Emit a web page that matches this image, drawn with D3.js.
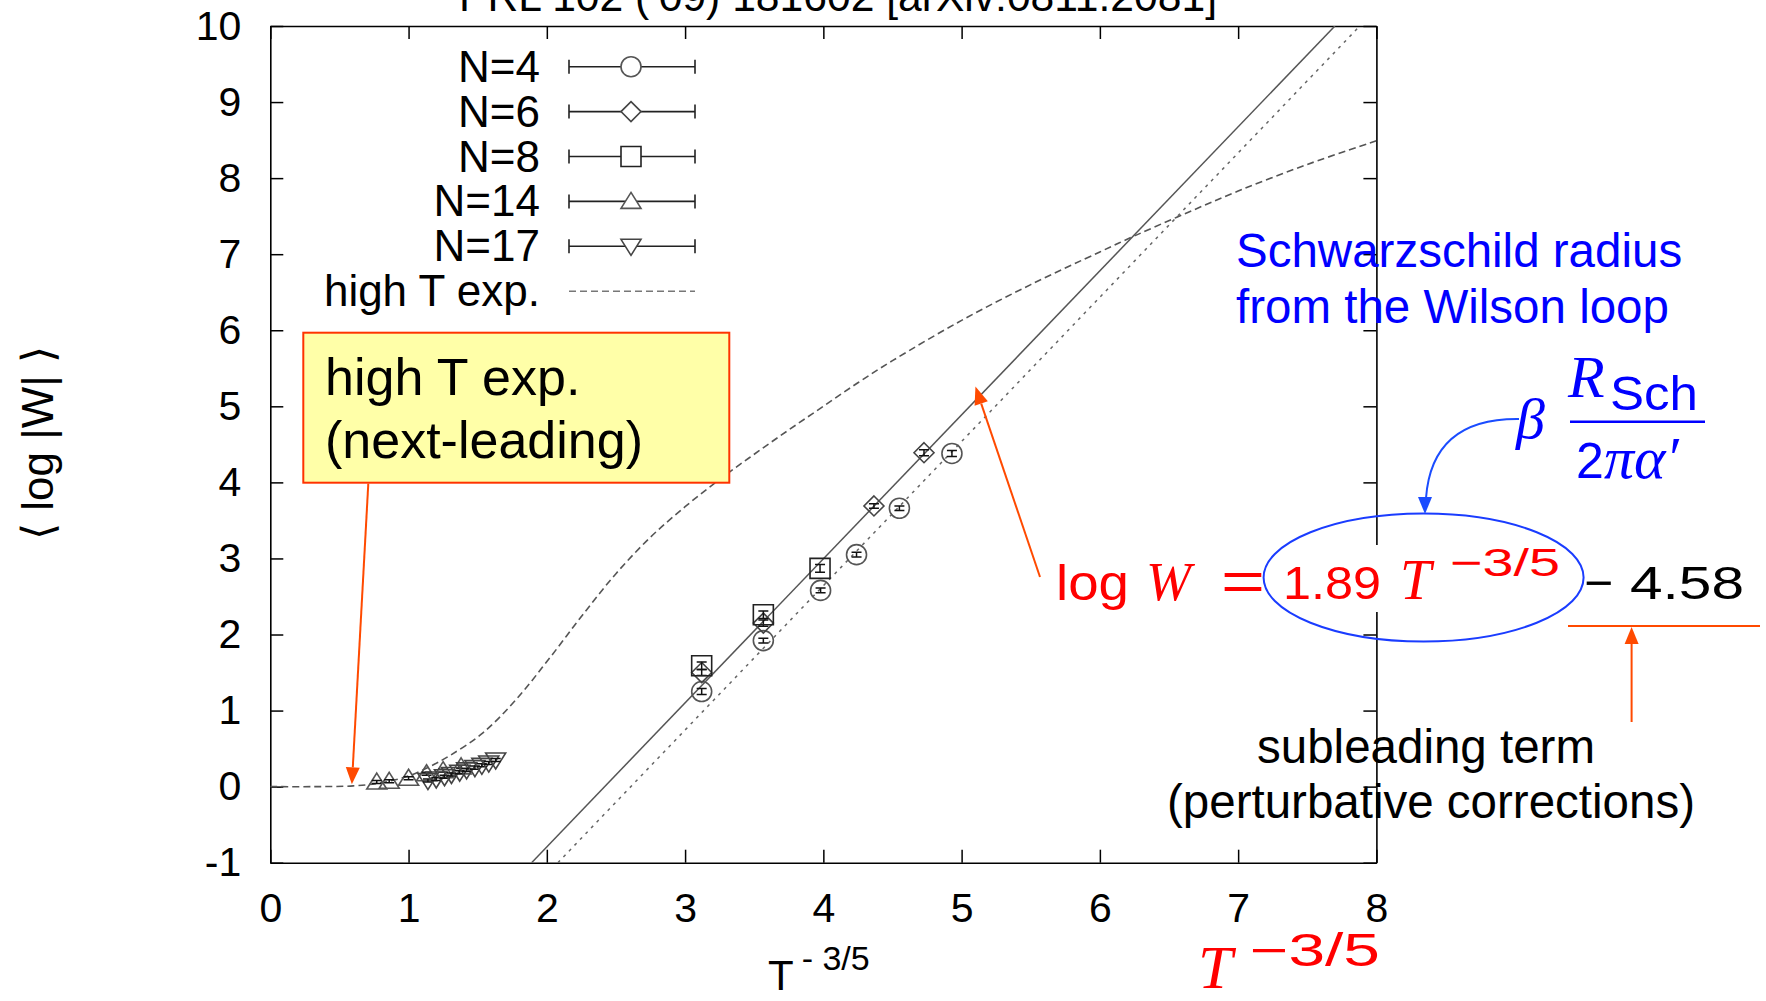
<!DOCTYPE html>
<html><head><meta charset="utf-8">
<script src="https://cdn.jsdelivr.net/npm/d3@7"></script>
<style>body{margin:0;background:#fff}svg{display:block}</style>
</head><body>
<svg id="c" width="1766" height="1001"></svg>
<script>
// ---------- data ----------
const xTicks = [0,1,2,3,4,5,6,7,8];
const yTicks = [-1,0,1,2,3,4,5,6,7,8,9,10];

const n4X = [3.12, 3.566, 3.98, 4.24, 4.55, 4.93];
const n4Y = [1.25, 1.92, 2.58, 3.05, 3.66, 4.38];
const n4E = [0.04, 0.03, 0.03, 0.03, 0.03, 0.04];

const n6X = [3.12, 3.566, 4.366, 4.728];
const n6Y = [1.50, 2.15, 3.69, 4.39];
const n6E = [0.04, 0.04, 0.03, 0.04];

const n8X = [3.12, 3.566, 3.976];
const n8Y = [1.59, 2.26, 2.87];
const n8E = [0.05, 0.05, 0.05];

const n14X = [0.77, 0.86, 1.00, 1.13, 1.25, 1.38];
const n14Y = [0.06, 0.07, 0.11, 0.17, 0.21, 0.26];
const n14E = [0.02, 0.02, 0.02, 0.02, 0.02, 0.02];

const n17X = [1.14, 1.20, 1.26, 1.31, 1.37, 1.42, 1.48, 1.53, 1.58, 1.63];
const n17Y = [0.08, 0.10, 0.13, 0.16, 0.19, 0.22, 0.25, 0.28, 0.31, 0.35];
const n17E = [0.02, 0.02, 0.02, 0.02, 0.02, 0.02, 0.02, 0.02, 0.02, 0.02];

// high T expansion curve
const hiX = [0, 0.3, 0.6, 0.8, 1.0, 1.15, 1.3, 1.54, 1.78, 2.02, 2.26, 2.5, 2.75, 3.0, 3.25, 3.5, 3.75, 4.0, 4.25, 4.5, 5.0, 5.5, 6.0, 6.25, 6.6, 7.0, 7.5, 8.0];
const hiY = [0, 0, 0.01, 0.05, 0.14, 0.26, 0.41, 0.71, 1.15, 1.69, 2.26, 2.80, 3.28, 3.68, 4.04, 4.37, 4.69, 5.00, 5.31, 5.60, 6.13, 6.60, 7.03, 7.24, 7.52, 7.83, 8.18, 8.49];

// fit lines (end points)
const solidX = [1.89, 7.70];
const solidY = [-1, 10];
const dottedX = [2.08, 7.88];
const dottedY = [-1, 10];

const legendLabels = ["N=4","N=6","N=8","N=14","N=17","high T exp."];

// ---------- setup ----------
const svg = d3.select('#c');
const L = 270.3, R = 1376.4, T = 26, B = 862.7;
const x = d3.scaleLinear().domain([0,8]).range([L,R]);
const y = d3.scaleLinear().domain([-1,10]).range([B,T]);
const SANS = "'Liberation Sans', Arial, sans-serif";
const SERIF = "'Liberation Serif', 'Times New Roman', serif";

svg.append('defs').append('clipPath').attr('id','plot')
  .append('rect').attr('x',L).attr('y',T).attr('width',R-L).attr('height',B-T);

// title (partly cut at the top, as in the original)
svg.append('text').attr('x',459).attr('y',11).attr('font-family',SANS).attr('font-size',42)
  .attr('textLength',758).attr('lengthAdjust','spacingAndGlyphs')
  .text('PRL 102 (\u201909) 181602 [arXiv:0811.2081]');

// ---------- axes ----------
function styleAxis(g){
  g.attr('font-family',SANS).attr('font-size',41);
  g.selectAll('.domain').attr('stroke','#000').attr('stroke-width',1.6);
  g.selectAll('.tick line').attr('stroke','#000').attr('stroke-width',1.5);
  g.selectAll('.tick text').attr('fill','#000');
}
const fmt = d => String(d);
svg.append('g').attr('transform',`translate(0,${B})`)
  .call(d3.axisBottom(x).tickValues(xTicks).tickSizeInner(-13).tickSizeOuter(0).tickPadding(30).tickFormat(fmt))
  .call(styleAxis);
svg.append('g').attr('transform',`translate(${L},0)`)
  .call(d3.axisLeft(y).tickValues(yTicks).tickSizeInner(-13).tickSizeOuter(0).tickPadding(29).tickFormat(fmt))
  .call(styleAxis);
svg.append('g').attr('transform',`translate(0,${T})`)
  .call(d3.axisTop(x).tickValues(xTicks).tickSizeInner(-13).tickSizeOuter(0).tickFormat(''))
  .call(styleAxis);
svg.append('g').attr('transform',`translate(${R},0)`)
  .call(d3.axisRight(y).tickValues(yTicks).tickSizeInner(-13).tickSizeOuter(0).tickFormat(''))
  .call(styleAxis);

// axis labels
const xl = svg.append('text').attr('x',768).attr('y',990).attr('font-family',SANS).attr('font-size',42);
xl.append('tspan').text('T');
xl.append('tspan').attr('dx',8).attr('dy',-20).attr('font-size',34).text('- 3/5');

svg.append('text').attr('transform','translate(37,443) rotate(-90)')
  .attr('text-anchor','middle').attr('dominant-baseline','central')
  .attr('font-family',SANS).attr('font-size',44).text('\u27E8 log |W| \u27E9');

// ---------- plot content ----------
const plot = svg.append('g').attr('clip-path','url(#plot)');

const line = d3.line().x(d=>x(d[0])).y(d=>y(d[1]));
plot.append('path').datum(d3.zip(hiX,hiY))
  .attr('d', d3.line().x(d=>x(d[0])).y(d=>y(d[1])).curve(d3.curveCatmullRom.alpha(0.5)))
  .attr('fill','none').attr('stroke','#555').attr('stroke-width',1.6).attr('stroke-dasharray','7,4');
plot.append('path').datum(d3.zip(solidX,solidY)).attr('d',line)
  .attr('fill','none').attr('stroke','#555').attr('stroke-width',1.5);
plot.append('path').datum(d3.zip(dottedX,dottedY)).attr('d',line)
  .attr('fill','none').attr('stroke','#666').attr('stroke-width',1.5).attr('stroke-dasharray','3,5');

function markerPath(type,cx,cy){
  switch(type){
    case 'circle': return `M${cx-10},${cy}a10,10 0 1,0 20,0a10,10 0 1,0 -20,0`;
    case 'diamond': return `M${cx},${cy-10}L${cx+10},${cy}L${cx},${cy+10}L${cx-10},${cy}Z`;
    case 'square': return `M${cx-10},${cy-10}h20v20h-20Z`;
    case 'up': return `M${cx},${cy-9}L${cx+10},${cy+7}L${cx-10},${cy+7}Z`;
    case 'down': return `M${cx},${cy+9}L${cx+10},${cy-7}L${cx-10},${cy-7}Z`;
  }
}
const series = [
  {xs:n4X, ys:n4Y, es:n4E, type:'circle', color:'#555'},
  {xs:n6X, ys:n6Y, es:n6E, type:'diamond', color:'#444'},
  {xs:n8X, ys:n8Y, es:n8E, type:'square', color:'#222'},
  {xs:n14X, ys:n14Y, es:n14E, type:'up', color:'#555'},
  {xs:n17X, ys:n17Y, es:n17E, type:'down', color:'#444'}
];
const pts = svg.append('g');
series.forEach(s=>{
  s.xs.forEach((xv,i)=>{
    const cx=x(xv), cy=y(s.ys[i]), y1=y(s.ys[i]-s.es[i]), y2=y(s.ys[i]+s.es[i]);
    pts.append('path').attr('d',markerPath(s.type,cx,cy)).attr('fill','none')
      .attr('stroke',s.color).attr('stroke-width',1.6);
    pts.append('path').attr('d',`M${cx},${y1}V${y2}M${cx-5},${y1}h10M${cx-5},${y2}h10`)
      .attr('stroke','#111').attr('stroke-width',1.5).attr('fill','none');
  });
});

// ---------- legend ----------
const leg = svg.append('g');
legendLabels.forEach((lab,i)=>{
  const cy = 66.7 + i*44.9;
  leg.append('text').attr('x',540).attr('y',cy+15).attr('text-anchor','end')
    .attr('font-family',SANS).attr('font-size',44).text(lab);
  if(i<5){
    leg.append('path').attr('d',`M569,${cy}H695M569,${cy-7}v14M695,${cy-7}v14`)
      .attr('stroke','#222').attr('stroke-width',1.6).attr('fill','none');
    leg.append('path').attr('d',markerPath(series[i].type,631,cy)).attr('fill','#fff')
      .attr('stroke',series[i].color).attr('stroke-width',1.6);
  } else {
    leg.append('path').attr('d',`M569,${cy}H695`).attr('stroke','#777')
      .attr('stroke-width',1.6).attr('stroke-dasharray','7,4');
  }
});

// ---------- annotations ----------
function arrow(g,x1,y1,x2,y2,color,w,hl,hw){
  const a=Math.atan2(y2-y1,x2-x1);
  const bx=x2-hl*Math.cos(a), by=y2-hl*Math.sin(a);
  g.append('line').attr('x1',x1).attr('y1',y1).attr('x2',bx).attr('y2',by)
    .attr('stroke',color).attr('stroke-width',w);
  const px=-Math.sin(a)*hw, py=Math.cos(a)*hw;
  g.append('path').attr('d',`M${x2},${y2}L${bx+px},${by+py}L${bx-px},${by-py}Z`).attr('fill',color);
}
const ann = svg.append('g');

// yellow box
ann.append('rect').attr('x',303.3).attr('y',332.7).attr('width',426).attr('height',150)
  .attr('fill','#ffffa8').attr('stroke','#ff3300').attr('stroke-width',2);
ann.append('text').attr('x',325).attr('y',395).attr('font-family',SANS).attr('font-size',52).text('high T exp.');
ann.append('text').attr('x',325).attr('y',458).attr('font-family',SANS).attr('font-size',52).text('(next-leading)');
arrow(ann,368.3,483.5,x(0.59),y(0.03),'#ff4a00',2,17,7);

// arrow to fit line
arrow(ann,1040,577,x(5.10),y(5.26),'#ff4a00',2,18,7);

// blue text
ann.append('text').attr('x',1236).attr('y',267).attr('font-family',SANS).attr('font-size',47.5).attr('fill','#0000ff').text('Schwarzschild radius');
ann.append('text').attr('x',1236).attr('y',323).attr('font-family',SANS).attr('font-size',47.5).attr('fill','#0000ff').text('from the Wilson loop');

// formula white background
ann.append('rect').attr('x',1045).attr('y',545).attr('width',715).attr('height',67).attr('fill','#fff');

const red = '#ff0000';
function txt(xp,yp,s,fam,size,fill,opt){
  const t=ann.append('text').attr('x',xp).attr('y',yp).attr('font-family',fam).attr('font-size',size).attr('fill',fill).text(s);
  if(opt&&opt.italic) t.attr('font-style','italic');
  if(opt&&opt.len) t.attr('textLength',opt.len).attr('lengthAdjust','spacingAndGlyphs');
  return t;
}
txt(1056,600,'log',SANS,50,red,{len:73});
txt(1146,600,'W',SERIF,54,red,{italic:true});
txt(1221,600,'=',SANS,56,red,{len:44});
txt(1283,599,'1.89',SANS,47,red,{len:98});
txt(1400,599,'T',SERIF,56,red,{italic:true});
txt(1450,576,'\u22123/5',SANS,39,red,{len:110});
txt(1584,599,'\u2212',SANS,48,'#000',{len:29});
txt(1630,599,'4.58',SANS,47,'#000',{len:114});

// ellipse
ann.append('ellipse').attr('cx',1423.6).attr('cy',577.5).attr('rx',160).attr('ry',64)
  .attr('fill','none').attr('stroke','#1a3cff').attr('stroke-width',2);

// beta fraction
txt(1516,438,'\u03B2',SERIF,58,'#0000ff',{italic:true});
txt(1568,397,'R',SERIF,60,'#0000ff',{italic:true});
txt(1610,410,'Sch',SANS,48,'#0000ff',{len:88});
ann.append('line').attr('x1',1570).attr('x2',1705).attr('y1',421.7).attr('y2',421.7)
  .attr('stroke','#0000ff').attr('stroke-width',2.5);
txt(1576,478,'2',SANS,50,'#0000ff');
txt(1604,478,'\u03C0\u03B1\u2032',SERIF,60,'#0000ff',{italic:true});

// curved blue arrow
ann.append('path').attr('d','M1519,419Q1432,418 1426,498').attr('fill','none')
  .attr('stroke','#1a4cff').attr('stroke-width',2);
ann.append('path').attr('d','M1425,514L1418,497L1432,497Z').attr('fill','#1a4cff');

// subleading term
ann.append('line').attr('x1',1568).attr('x2',1760).attr('y1',626).attr('y2',626)
  .attr('stroke','#ff4a00').attr('stroke-width',2);
arrow(ann,1631.6,722,1631.6,627,'#ff4a00',2,17,7);
ann.append('text').attr('x',1426).attr('y',763).attr('text-anchor','middle')
  .attr('font-family',SANS).attr('font-size',47.5).text('subleading term');
ann.append('text').attr('x',1431).attr('y',818).attr('text-anchor','middle')
  .attr('font-family',SANS).attr('font-size',47.5).text('(perturbative corrections)');

// big red T^{-3/5}
txt(1198,988,'T',SERIF,62,red,{italic:true});
txt(1250,966,'\u22123/5',SANS,46,red,{len:130});
</script>
</body></html>
